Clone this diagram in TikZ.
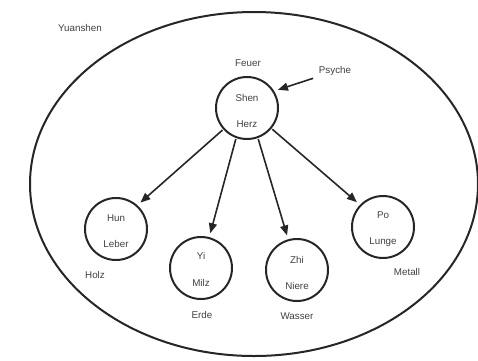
\documentclass[tikz,border=0pt]{standalone}
\usepackage{fontspec}
\setmainfont{Liberation Sans}
\usetikzlibrary{arrows.meta}
\begin{document}
\begin{tikzpicture}[x=1pt,y=-1pt,
  lbl/.style={font=\fontsize{9.8}{10}\selectfont, text=black!75, inner sep=0pt},
  organ/.style={circle, draw=black!85, line width=2pt, minimum size=62pt, inner sep=0pt},
  arr/.style={line width=1.6pt, draw=black!85, shorten >=4pt, shorten <=1pt, -{Triangle[length=10pt,width=8pt]}}]
\useasboundingbox (0,0) rectangle (478,360);
\draw[line width=2pt, black!85] (254,184) ellipse [x radius=224, y radius=172];
\node[lbl] (yuan) at (80,28) {Yuanshen};
\node[lbl] (feuer) at (248,63) {Feuer};
\node[lbl] (psyche) at (335,71) {Psyche};
\node[organ] (shen) at (247,108) {};
\node[lbl] at (247,98) {Shen};
\node[lbl] at (247,124) {Herz};
\node[organ] (hun) at (116,229) {};
\node[lbl] at (116,218) {Hun};
\node[lbl] at (116,244) {Leber};
\node[organ] (yi) at (201,268) {};
\node[lbl] at (201,256) {Yi};
\node[lbl] at (201,283) {Milz};
\node[organ] (zhi) at (297,270) {};
\node[lbl] at (297,260) {Zhi};
\node[lbl] at (297,286) {Niere};
\node[organ] (po) at (383,227) {};
\node[lbl] at (383,215) {Po};
\node[lbl] at (383,242) {Lunge};
\node[lbl] (holz) at (95,275) {Holz};
\node[lbl] (erde) at (202,315) {Erde};
\node[lbl] (wasser) at (297,316) {Wasser};
\node[lbl] (metall) at (407,272) {Metall};
\coordinate (ps) at (314,78);
\draw[arr] (ps) -- (shen.32);
\draw[arr] (shen.222) -- (hun.48);
\draw[arr] (shen.250) -- (yi.75);
\draw[arr] (shen.290) -- (zhi.106);
\draw[arr] (shen.320) -- (po.136);
\end{tikzpicture}
\end{document}
